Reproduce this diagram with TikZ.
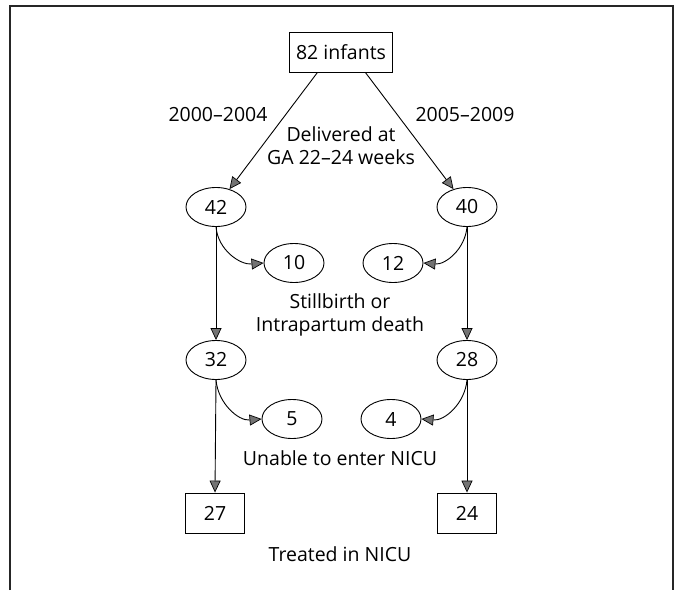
\documentclass[tikz,border=0pt]{standalone}
\usepackage{fontspec}
\setmainfont{Open Sans}
\usetikzlibrary{arrows.meta,shapes.geometric}

\begin{document}
\begin{tikzpicture}[x=1pt, y=1pt,
		every node/.style={font=\fontsize{19.5}{23}\selectfont},
		countbox/.style={draw, line width=0.9pt, minimum height=40pt, inner xsep=7pt},
		countoval/.style={draw, ellipse, line width=0.9pt, minimum width=60pt, minimum height=39pt, inner sep=0pt},
		flow/.style={line width=0.9pt, -{Triangle[length=12pt, width=11pt, fill=black!55, line width=0.7pt]}}]
			%%%%% START %%%%%
			
			\useasboundingbox (0, 0) rectangle (679, 590);
			\draw[line width=1.2pt, color=black!85] (10, 0) -- (10, 584) -- (673, 584) -- (673, 0);
			
			\node[countbox] (top) at (341, 538) {82 infants};
			\node (yrA) at (218, 475) {2000--2004};
			\node (yrB) at (465, 475) {2005--2009};
			\node[align=center] (deliv) at (341, 444) {Delivered at\\GA 22--24 weeks};
			
			\node[countoval] (n42) at (216, 383) {42};
			\node[countoval] (n40) at (467, 383) {40};
			\node[countoval] (n10) at (294, 327) {10};
			\node[countoval] (n12) at (393, 327) {12};
			\node[align=center] (still) at (340, 275) {Stillbirth or\\Intrapartum death};
			
			\node[countoval] (n32) at (216, 230) {32};
			\node[countoval] (n28) at (467, 230) {28};
			\node[countoval] (n5) at (292, 171) {5};
			\node[countoval] (n4) at (391, 171) {4};
			\node (unable) at (340, 132) {Unable to enter NICU};
			
			\node[countbox, minimum width=59pt] (b27) at (215, 77) {27};
			\node[countbox, minimum width=59pt] (b24) at (467, 77) {24};
			\node (treated) at (340, 36) {Treated in NICU};
			
			\draw[flow] (top.221) -- (n42);
			\draw[flow] (top.320) -- (n40);
			
			\draw[flow] (n42.south) -- (n32.north);
			\draw[flow] (n42.south) to[out=-85, in=185] (n10.west);
			\draw[flow] (n40.south) -- (n28.north);
			\draw[flow] (n40.south) to[out=-95, in=-5] (n12.east);
			
			\draw[flow] (n32.south) -- (b27.north);
			\draw[flow] (n32.south) to[out=-85, in=185] (n5.west);
			\draw[flow] (n28.south) -- (b24.north);
			\draw[flow] (n28.south) to[out=-95, in=-5] (n4.east);
			
			%%%%% END %%%%%
		\end{tikzpicture}
\end{document}
